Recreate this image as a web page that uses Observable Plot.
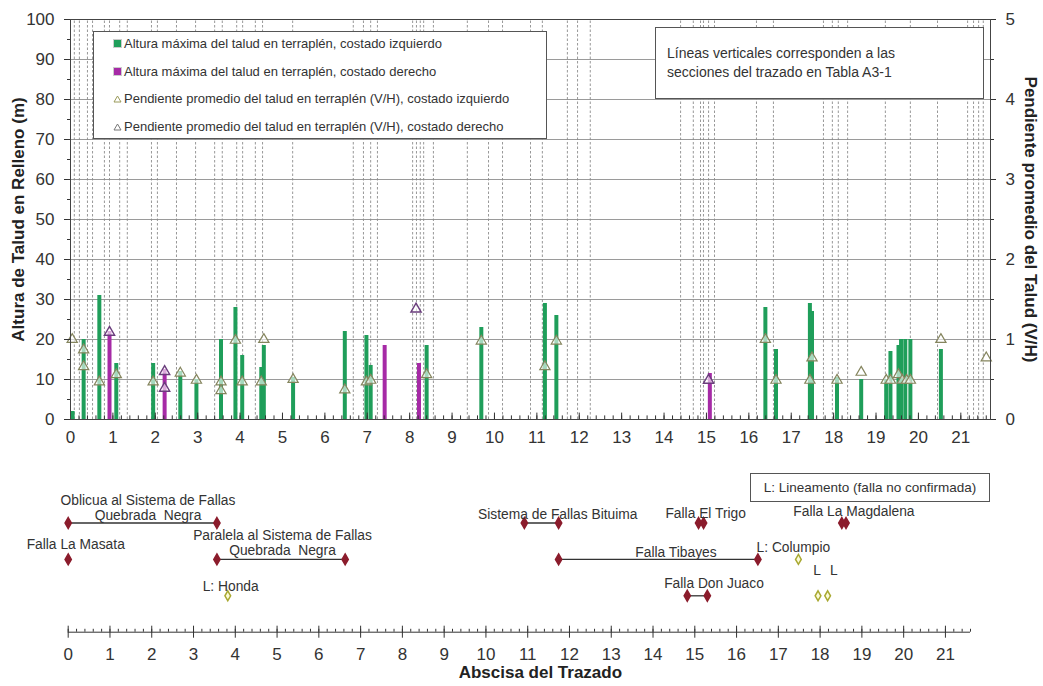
<!DOCTYPE html>
<html><head><meta charset="utf-8">
<script src="https://cdn.jsdelivr.net/npm/d3@7"></script>
<script src="https://cdn.jsdelivr.net/npm/@observablehq/plot@0.6"></script>
<style>
body{margin:0;background:#fff;font-family:"Liberation Sans",Arial,sans-serif;}
#wrap{position:relative;width:1043px;height:686px;overflow:hidden}
#wrap > svg{display:block}
.box{position:absolute;background:#fff;border:1px solid #555;box-sizing:border-box;color:#333}
.leg{position:absolute;left:19px;font-size:13px;white-space:nowrap;line-height:14px}
.sw{display:inline-block;width:7px;height:7px;margin-right:2px;vertical-align:0px}
.tri{display:inline-block;vertical-align:0px;margin-right:2px}
</style></head><body><div id="wrap"></div>
<script>
// ---- data: top chart ----
const leftKm = [0.05,0.31,0.68,1.08,1.95,2.59,2.97,3.55,3.89,4.05,4.50,4.56,5.25,6.47,6.98,7.08,8.40,9.69,11.19,11.46,16.39,16.64,17.44,17.49,18.08,18.65,19.24,19.34,19.53,19.59,19.69,19.81,20.53];
const leftH  = [2,20,31,14,14,12,10,20,28,16,13,18.5,10.5,22,21,13.5,18.5,23,29,26,28,17.5,29,27,10.5,10,10,17,18.5,20,20,20,17.5];
const rightKm = [0.92,2.22,7.41,8.22,15.08];
const rightH  = [22,12.5,18.5,14,11.5];
const slopeLeftKm = [0.04,0.31,0.31,0.68,1.08,1.95,2.59,2.97,3.55,3.55,3.89,4.05,4.50,4.56,5.25,6.47,6.98,7.08,8.40,9.69,11.19,11.46,16.39,16.64,17.44,17.49,18.08,18.65,19.24,19.34,19.53,19.62,19.72,19.81,20.53,21.6];
const slopeLeft   = [1.0,0.87,0.66,0.47,0.56,0.47,0.58,0.49,0.47,0.36,0.99,0.47,0.47,1.0,0.5,0.37,0.47,0.49,0.56,0.98,0.66,0.98,1.0,0.49,0.49,0.77,0.49,0.59,0.49,0.49,0.56,0.49,0.49,0.49,1.0,0.77];
const slopeRightKm = [0.92,2.22,2.22,8.15,15.05];
const slopeRight   = [1.09,0.6,0.39,1.38,0.49];
const sections = [0.09,0.21,0.40,0.52,0.80,0.92,1.16,1.34,1.91,2.05,2.50,2.95,3.40,3.58,3.92,4.06,4.36,4.53,5.24,6.67,6.91,7.08,7.24,8.07,8.16,8.25,8.33,8.56,9.36,9.86,10.19,10.85,11.13,11.72,11.96,12.26,14.39,14.69,14.86,14.93,15.05,15.19,16.18,16.58,17.76,17.97,18.11,18.33,19.22,19.81,20.45,21.16,21.30,21.42,21.53];
const xTicks = d3.range(0,22);
const yTicksLeft = d3.range(0,101,10);
const yTicksRight = [0,1,2,3,4,5];

// ---- data: fault diagram ----
const faultName = ["Oblicua al Sistema de Fallas Quebrada Negra","Falla La Masata","Paralela al Sistema de Fallas Quebrada Negra","Sistema de Fallas Bituima","Falla El Trigo","Falla Tibayes","Falla Don Juaco","Falla La Magdalena"];
const faultRow  = [1,2,2,1,1,2,3,1];
const faultFrom = [0,0,3.56,10.92,15.09,11.74,14.82,18.52];
const faultTo   = [3.56,0,6.63,11.74,15.21,16.51,15.30,18.62];
const lineaName = ["L: Honda","L: Columpio","L","L"];
const lineaRow  = [3,2,3,3];
const lineaKm   = [3.82,17.48,17.95,18.18];
const labelText = ["Oblicua al Sistema de Fallas\nQuebrada  Negra","Falla La Masata","Paralela al Sistema de Fallas\nQuebrada  Negra","L: Honda","Sistema de Fallas Bituima","Falla El Trigo","Falla Tibayes","Falla Don Juaco","L: Columpio","Falla La Magdalena","L","L"];
const labelKm   = [1.91,0.18,5.13,3.89,11.72,15.26,14.55,15.46,17.36,18.81,17.93,18.33];
const labelRow  = [0.569,1.59,1.55,2.74,0.75,0.74,1.80,2.66,1.67,0.68,2.30,2.30];

// ---- build tables ----
const leftBars = leftKm.map((k,i)=>({km:k,h:leftH[i]}));
const rightBars = rightKm.map((k,i)=>({km:k,h:rightH[i]}));
const sL = slopeLeftKm.map((k,i)=>({km:k,s:slopeLeft[i]}));
const sR = slopeRightKm.map((k,i)=>({km:k,s:slopeRight[i]}));
const faults = faultName.map((n,i)=>({name:n,row:faultRow[i],from:faultFrom[i],to:faultTo[i]}));
const faultPts = faults.flatMap(f=> f.to>f.from ? [{x:f.from,row:f.row},{x:f.to,row:f.row}] : [{x:f.from,row:f.row}]);
const linea = lineaName.map((n,i)=>({name:n,row:lineaRow[i],x:lineaKm[i]}));
const labels = labelText.map((t,i)=>({text:t,x:labelKm[i],row:labelRow[i]}));

const FONT = "Liberation Sans, Arial, sans-serif";
const minor = d3.range(0,21.61,0.2).map(v=>+v.toFixed(1));

const topPlot = Plot.plot({
  width:1043, height:450, marginLeft:70, marginRight:53, marginTop:19, marginBottom:31,
  x:{domain:[0,21.7]}, y:{domain:[0,100]},
  style:{fontFamily:FONT, color:"#333", background:"#fff"},
  marks:[
    Plot.ruleY(d3.range(10,101,10),{stroke:"#9a9a9a", strokeWidth:1}),
    Plot.ruleX(sections,{y1:0,y2:100,stroke:"#8c8c8c",strokeDasharray:"2.5,2",strokeWidth:0.9}),
    Plot.ruleX(leftBars,{x:"km",y1:0,y2:"h",stroke:"#1f9e5a",strokeWidth:4}),
    Plot.ruleX(rightBars,{x:"km",y1:0,y2:"h",stroke:"#a62aa6",strokeWidth:4}),
    Plot.dot(sL,{x:"km",y:d=>d.s*20,symbol:"triangle",r:3.8,fill:"white",fillOpacity:0.6,stroke:"#85855e",strokeWidth:1.2}),
    Plot.dot(sR,{x:"km",y:d=>d.s*20,symbol:"triangle",r:3.8,fill:"white",fillOpacity:0.6,stroke:"#6a3d7c",strokeWidth:1.4}),
    Plot.ruleX(minor,{y1:0,y2:0.9,stroke:"#333"}),
    Plot.ruleX(xTicks,{y1:0,y2:1.6,stroke:"#333"}),
    Plot.axisX({ticks:xTicks, tickSize:0, tickPadding:11, fontSize:17, tickFormat:d=>d, label:null}),
    Plot.axisY({ticks:yTicksLeft, tickSize:6, tickPadding:10, fontSize:17, label:null}),
    Plot.axisY({ticks:d3.range(5,100,10), tickSize:3, tickFormat:()=>"", label:null}),
    Plot.axisY({anchor:"right", ticks:yTicksRight.map(v=>v*20), tickFormat:d=>d/20, tickSize:5, tickPadding:10, fontSize:17, label:null}),
    Plot.axisY({anchor:"right", ticks:d3.range(10,100,20), tickSize:3, tickFormat:()=>"", label:null}),
    Plot.frame({stroke:"#444"}),
    Plot.text(["Altura de Talud en Relleno (m)"],{frameAnchor:"left", textAnchor:"middle", rotate:-90, dx:-52, fontWeight:"bold", fontSize:17, fill:"#222"}),
    Plot.text(["Pendiente promedio del Talud (V/H)"],{frameAnchor:"right", textAnchor:"middle", rotate:90, dx:40, fontWeight:"bold", fontSize:17, fill:"#222"})
  ]
});

const botPlot = Plot.plot({
  width:1043, height:236, marginLeft:67.7, marginRight:73, marginTop:36.1, marginBottom:54.3,
  x:{domain:[0,21.6], axis:null}, y:{domain:[0,4], reverse:true, axis:null},
  style:{fontFamily:FONT, color:"#333", background:"#fff"},
  marks:[
    Plot.link(faults.filter(f=>f.to>f.from),{x1:"from",x2:"to",y1:"row",y2:"row",stroke:"#333",strokeWidth:1.3}),
    Plot.dot(faultPts,{x:"x",y:"row",symbol:"diamond",r:3.3,fill:"#8b1c2c",stroke:"#8b1c2c"}),
    Plot.dot(linea,{x:"x",y:"row",symbol:"diamond",r:3.0,fill:"#fbfbd8",stroke:"#a9a932",strokeWidth:1.5}),
    Plot.text(labels,{x:"x",y:"row",text:"text",fontSize:13.8,fill:"#333",lineHeight:1.1}),
    Plot.ruleY([4],{x1:0,x2:21.6,stroke:"#333"}),
    Plot.ruleX(minor,{y1:3.92,y2:4,stroke:"#333"}),
    Plot.ruleX(xTicks,{y1:3.835,y2:4.165,stroke:"#333"}),
    Plot.text(xTicks,{x:d=>d,y:4,text:d=>String(d),dy:22,fontSize:17,fill:"#333"}),
    Plot.text(["Abscisa del Trazado"],{frameAnchor:"bottom",dx:21,dy:46,fontWeight:"bold",fontSize:17,fill:"#222"})
  ]
});

const wrap = document.getElementById("wrap");
wrap.appendChild(topPlot);
wrap.appendChild(botPlot);

// legend box (top-left)
const legItems = [
  {t:"Altura máxima del talud en terraplén, costado izquierdo", k:"sq", c:"#1f9e5a"},
  {t:"Altura máxima del talud en terraplén, costado derecho", k:"sq", c:"#a62aa6"},
  {t:"Pendiente promedio del talud en terraplén (V/H), costado izquierdo", k:"tri", c:"#9a9a5a"},
  {t:"Pendiente promedio del talud en terraplén (V/H), costado derecho", k:"tri", c:"#777"}
];
const leg = document.createElement("div");
leg.className="box";
Object.assign(leg.style,{left:"93px",top:"31px",width:"454px",height:"108px"});
legItems.forEach((it,i)=>{
  const d=document.createElement("div");
  d.className="leg";
  d.style.top=(5+i*27.5)+"px";
  const mk = it.k==="sq"
    ? `<span class="sw" style="background:${it.c};border:1px solid #ccc"></span>`
    : `<svg class="tri" width="9" height="8"><path d="M4.5,1 L8,7 L1,7 Z" fill="white" stroke="${it.c}" stroke-width="1"/></svg>`;
  d.innerHTML = mk + it.t;
  leg.appendChild(d);
});
wrap.appendChild(leg);

// note box (top-right)
const note = document.createElement("div");
note.className="box";
Object.assign(note.style,{left:"655px",top:"27px",width:"329px",height:"72px",fontSize:"14px",lineHeight:"19px",padding:"16px 0 0 11px"});
note.innerHTML="Líneas verticales corresponden a las<br>secciones del trazado en Tabla A3-1";
wrap.appendChild(note);

// lineament legend box
const lbox = document.createElement("div");
lbox.className="box";
Object.assign(lbox.style,{left:"750px",top:"473px",width:"240px",height:"29px",fontSize:"13.5px",lineHeight:"27px",textAlign:"center"});
lbox.textContent="L: Lineamento  (falla no confirmada)";
wrap.appendChild(lbox);
</script></body></html>
